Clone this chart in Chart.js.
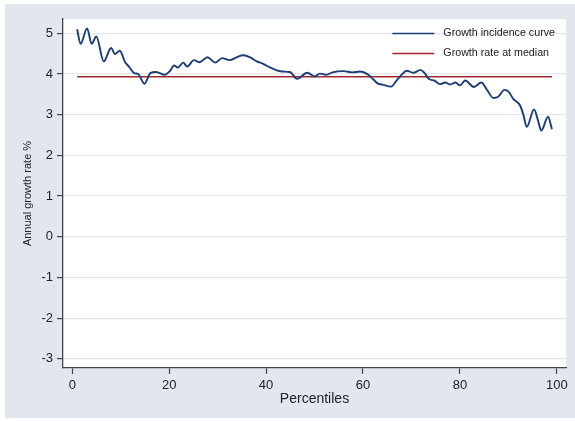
<!DOCTYPE html>
<html>
<head>
<meta charset="utf-8">
<title>Growth incidence curve</title>
<script src="https://cdn.jsdelivr.net/npm/chart.js@4.4.1/dist/chart.umd.min.js"></script>
<style>
  html, body { margin: 0; padding: 0; background: #fff; }
</style>
</head>
<body>
<canvas id="gic" width="575" height="421"></canvas>
<script>
// turning points of the curve
const pctX = [1, 1.7, 3.05, 4.0, 4.95, 6.5, 8.0, 8.8, 9.8, 10.9, 11.7, 12.8, 13.6, 14.9, 16.1, 17.3, 19.1,
    20.2, 21.0, 21.8, 22.9, 23.7, 25.1, 26.2, 27.9, 29.5, 30.9, 32.5, 33.9, 35.3, 36.7, 38.1, 39.4,
    40.8, 42.2, 43.5, 44.9, 46.4, 48.5, 50.0, 51.1, 52.4, 53.7, 56.0, 57.8, 59.4, 61.0, 62.1, 63.0,
    64.0, 65.8, 67.0, 68.3, 69.0, 70.4, 71.9, 72.7, 73.7, 74.7, 75.9, 77.0, 78.0, 79.1, 80.0, 81.1,
    82.9, 84.4, 85.7, 86.9, 87.9, 89.2, 90.1, 91.0, 92.4, 93.1, 93.8, 95.3, 96.1, 96.8, 98.2, 99];
const gicY = [5.10, 4.74, 5.12, 4.74, 4.92, 4.31, 4.64, 4.49, 4.57, 4.29, 4.18, 4.02, 4.00, 3.76, 4.02, 4.05, 3.98,
    4.08, 4.21, 4.16, 4.28, 4.18, 4.34, 4.29, 4.41, 4.28, 4.39, 4.34, 4.41, 4.46, 4.41, 4.31, 4.25,
    4.16, 4.09, 4.06, 4.05, 3.88, 4.03, 3.94, 4.01, 3.98, 4.04, 4.07, 4.04, 4.06, 3.99, 3.87, 3.77,
    3.74, 3.69, 3.85, 4.02, 4.08, 4.03, 4.10, 4.02, 3.87, 3.84, 3.75, 3.79, 3.74, 3.79, 3.72, 3.84,
    3.68, 3.79, 3.59, 3.41, 3.44, 3.61, 3.56, 3.39, 3.23, 3.00, 2.70, 3.13, 2.87, 2.61, 2.95, 2.64];
const medianRate = 3.93;

const xTicks = [0, 20, 40, 60, 80, 100];
const yTicks = [-3, -2, -1, 0, 1, 2, 3, 4, 5];
const seriesLabels = ['Growth incidence curve', 'Growth rate at median'];
const seriesColors = ['#1d3d76', '#a12a31'];

const FONT = '"Liberation Sans", Arial, sans-serif';
const INK = '#222222';

// grey-blue frame round the white plot region
const backdrop = {
    id: 'backdrop',
    beforeDraw(chart) {
        const { ctx, chartArea: a } = chart;
        ctx.save();
        ctx.fillStyle = '#ffffff';
        ctx.fillRect(0, 0, chart.width, chart.height);
        ctx.fillStyle = '#e1e6ef';
        ctx.fillRect(5, 4, chart.width - 5, chart.height - 7);
        ctx.fillStyle = '#ffffff';
        ctx.fillRect(a.left, a.top, a.right - a.left, a.bottom - a.top);
        ctx.restore();
    }
};

// legend stacked inside the plot, top right, like Stata's ring(0)
const insideLegend = {
    id: 'insideLegend',
    afterDatasetsDraw(chart) {
        const { ctx, chartArea: a } = chart;
        const keyLen = 42, gap = 9, rowH = 20;
        ctx.save();
        ctx.font = '10.7px ' + FONT;
        const textW = Math.max(...chart.data.datasets.map(d => ctx.measureText(d.label).width));
        const left = a.right - 11 - (keyLen + gap + textW);
        chart.data.datasets.forEach((d, i) => {
            const y = a.top + 14.5 + i * rowH;
            ctx.strokeStyle = d.borderColor;
            ctx.lineWidth = i === 0 ? 1.6 : 1.4;
            ctx.beginPath();
            ctx.moveTo(left, y);
            ctx.lineTo(left + keyLen, y);
            ctx.stroke();
            ctx.fillStyle = INK;
            ctx.textBaseline = 'middle';
            ctx.textAlign = 'left';
            ctx.fillText(d.label, left + keyLen + gap, y);
        });
        ctx.restore();
    }
};

const curve = pctX.map((x, i) => ({ x: x, y: gicY[i] }));
const medianLine = [pctX[0], pctX[pctX.length - 1]].map(x => ({ x: x, y: medianRate }));

new Chart(document.getElementById('gic'), {
    type: 'line',
    data: {
        datasets: [{
            label: seriesLabels[0],
            data: curve,
            borderColor: seriesColors[0],
            borderWidth: 1.9,
            pointRadius: 0,
            cubicInterpolationMode: 'monotone',
            fill: false
        }, {
            label: seriesLabels[1],
            data: medianLine,
            borderColor: seriesColors[1],
            borderWidth: 1.5,
            pointRadius: 0,
            fill: false
        }]
    },
    options: {
        responsive: false,
        animation: false,
        devicePixelRatio: 1,
        layout: { padding: { top: 19, right: 9, left: 0, bottom: 0 } },
        plugins: {
            legend: { display: false },
            tooltip: { enabled: false }
        },
        scales: {
            x: {
                type: 'linear',
                min: -1.92,
                max: 101.9,
                afterBuildTicks: s => { s.ticks = xTicks.map(v => ({ value: v })); },
                afterFit: s => { s.height = 53; },
                ticks: { font: { family: FONT, size: 13 }, color: INK, padding: 4, maxRotation: 0 },
                grid: { drawOnChartArea: false, drawTicks: true, tickLength: 6, tickColor: '#444', tickWidth: 1.2 },
                border: { display: true, color: '#444', width: 1.3 },
                title: {
                    display: true,
                    text: 'Percentiles',
                    font: { family: FONT, size: 14 },
                    color: INK,
                    padding: { top: 0, bottom: 13.6 }
                }
            },
            y: {
                type: 'linear',
                min: -3.224,
                max: 5.351,
                afterBuildTicks: s => { s.ticks = yTicks.map(v => ({ value: v })); },
                afterFit: s => { s.width = 63; },
                ticks: { font: { family: FONT, size: 13 }, color: INK, padding: 4 },
                grid: { color: '#e3e8f0', lineWidth: 1.2, drawTicks: true, tickLength: 6, tickColor: '#444', tickWidth: 1.2 },
                border: { display: true, color: '#444', width: 1.3 },
                title: {
                    display: true,
                    text: 'Annual growth rate %',
                    font: { family: FONT, size: 11 },
                    color: INK,
                    padding: { top: 21.4, bottom: 0 }
                }
            }
        }
    },
    plugins: [backdrop, insideLegend]
});
</script>
</body>
</html>
